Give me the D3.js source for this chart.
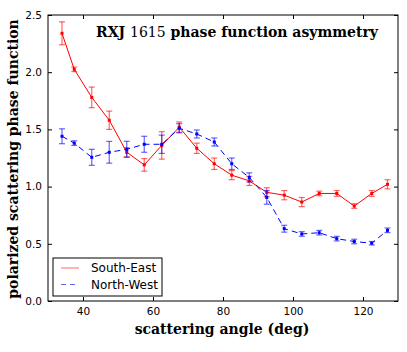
<!DOCTYPE html>
<html>
<head>
<meta charset="utf-8">
<script src="https://cdn.jsdelivr.net/npm/d3@7"></script>
<style>
  body { margin: 0; background: #fff; }
  svg text { fill: #000; }
</style>
</head>
<body>
<svg id="chart" width="407" height="352"></svg>
<script>
// scattering angles (deg)
var angles = [34, 37.5, 42.5, 47.5, 52.5, 57.5, 62.5, 67.5, 72.5, 77.5, 82.5, 87.5, 92.5, 97.5, 102.5, 107.5, 112.5, 117.5, 122.5, 127];

// South-East
var seVal = [2.34, 2.025, 1.78, 1.58, 1.30, 1.19, 1.36, 1.52, 1.335, 1.20, 1.10, 1.05, 0.95, 0.925, 0.865, 0.94, 0.94, 0.83, 0.94, 1.02];
var seErr = [0.10, 0.02, 0.09, 0.08, 0.04, 0.055, 0.12, 0.045, 0.045, 0.05, 0.04, 0.04, 0.04, 0.04, 0.04, 0.02, 0.025, 0.02, 0.025, 0.04];

// North-West
var nwVal = [1.44, 1.38, 1.256, 1.30, 1.326, 1.37, 1.37, 1.51, 1.46, 1.39, 1.20, 1.08, 0.906, 0.632, 0.586, 0.597, 0.545, 0.52, 0.505, 0.618];
var nwErr = [0.065, 0.02, 0.07, 0.095, 0.07, 0.07, 0.08, 0.04, 0.035, 0.035, 0.05, 0.04, 0.06, 0.03, 0.02, 0.02, 0.02, 0.02, 0.015, 0.02];

var xTicks = [40, 60, 80, 100, 120];
var yTicks = [0.0, 0.5, 1.0, 1.5, 2.0, 2.5];

var svg = d3.select("#chart");
var mLeft = 48, mRight = 398, mTop = 15, mBottom = 301;

var x = d3.scaleLinear().domain([30, 130]).range([mLeft, mRight]);
var y = d3.scaleLinear().domain([0, 2.5]).range([mBottom, mTop]);

// ticks, inward on all four sides
var tickFont = "DejaVu Sans, sans-serif";
svg.append("g")
  .attr("transform", "translate(0," + mBottom + ")")
  .call(d3.axisBottom(x).tickValues(xTicks).tickSizeInner(-4).tickSizeOuter(0).tickPadding(7))
  .call(function (g) { g.select(".domain").remove(); })
  .selectAll("text").style("font-family", tickFont).style("font-size", "10.5px");
svg.append("g")
  .attr("transform", "translate(0," + mTop + ")")
  .call(d3.axisTop(x).tickValues(xTicks).tickSizeInner(-4).tickSizeOuter(0).tickFormat(""))
  .call(function (g) { g.select(".domain").remove(); });
svg.append("g")
  .attr("transform", "translate(" + mLeft + ",0)")
  .call(d3.axisLeft(y).tickValues(yTicks).tickSizeInner(-4).tickSizeOuter(0).tickPadding(6).tickFormat(d3.format(".1f")))
  .call(function (g) { g.select(".domain").remove(); })
  .selectAll("text").style("font-family", tickFont).style("font-size", "10.5px");
svg.append("g")
  .attr("transform", "translate(" + mRight + ",0)")
  .call(d3.axisRight(y).tickValues(yTicks).tickSizeInner(-4).tickSizeOuter(0).tickFormat(""))
  .call(function (g) { g.select(".domain").remove(); });

svg.append("rect")
  .attr("x", mLeft).attr("y", mTop)
  .attr("width", mRight - mLeft).attr("height", mBottom - mTop)
  .attr("fill", "none").attr("stroke", "#000").attr("stroke-width", 1);

// one series: line + error bars + markers
function drawSeries(vals, errs, color, dash) {
  var pts = angles.map(function (a, i) { return { a: a, v: vals[i], e: errs[i] }; });
  var g = svg.append("g");
  var eb = g.append("g").attr("stroke", color).attr("stroke-opacity", 0.6).attr("stroke-width", 1.2);
  pts.forEach(function (d) {
    eb.append("line")
      .attr("x1", x(d.a)).attr("x2", x(d.a))
      .attr("y1", y(d.v - d.e)).attr("y2", y(d.v + d.e));
    [d.v - d.e, d.v + d.e].forEach(function (c) {
      eb.append("line")
        .attr("x1", x(d.a) - 3).attr("x2", x(d.a) + 3)
        .attr("y1", y(c)).attr("y2", y(c));
    });
  });
  g.append("path")
    .datum(pts)
    .attr("fill", "none")
    .attr("stroke", color)
    .attr("stroke-width", 1)
    .attr("stroke-dasharray", dash)
    .attr("d", d3.line().x(function (d) { return x(d.a); }).y(function (d) { return y(d.v); }));
  g.selectAll("rect.m")
    .data(pts)
    .enter()
    .append("rect")
    .attr("x", function (d) { return x(d.a) - 1.5; })
    .attr("y", function (d) { return y(d.v) - 1.5; })
    .attr("width", 3).attr("height", 3)
    .attr("fill", color);
}

drawSeries(seVal, seErr, "#ff0000", null);
drawSeries(nwVal, nwErr, "#0000ff", "6,4");

// title inside the plot
var serif = "DejaVu Serif, serif";
var title = svg.append("text")
  .attr("x", 237).attr("y", 37)
  .attr("text-anchor", "middle")
  .style("font-family", serif).style("font-size", "14px");
title.append("tspan").style("font-weight", "bold").text("RXJ ");
title.append("tspan").text("1615");
title.append("tspan").style("font-weight", "bold").text(" phase function asymmetry");

// axis labels
svg.append("text")
  .attr("x", 222).attr("y", 334)
  .attr("text-anchor", "middle")
  .style("font-family", serif).style("font-size", "14px").style("font-weight", "bold")
  .text("scattering angle (deg)");
svg.append("text")
  .attr("transform", "translate(18,159) rotate(-90)")
  .attr("text-anchor", "middle")
  .style("font-family", serif).style("font-size", "14px").style("font-weight", "bold")
  .text("polarized scattering phase function");

// legend
var lg = svg.append("g");
lg.append("rect")
  .attr("x", 53).attr("y", 258).attr("width", 109).attr("height", 38)
  .attr("fill", "#fff").attr("stroke", "#000").attr("stroke-width", 1);
var legendItems = [
  { name: "South-East", color: "#ff0000", dash: null },
  { name: "North-West", color: "#0000ff", dash: "5,4" }
];
legendItems.forEach(function (d, i) {
  var yy = 268 + i * 16.5;
  lg.append("line")
    .attr("x1", 61).attr("x2", 79).attr("y1", yy).attr("y2", yy)
    .attr("stroke", d.color).attr("stroke-opacity", 0.6)
    .attr("stroke-dasharray", d.dash);
  lg.append("text")
    .attr("x", 91).attr("y", yy + 4)
    .style("font-family", tickFont).style("font-size", "12px")
    .text(d.name);
});
</script>
</body>
</html>
